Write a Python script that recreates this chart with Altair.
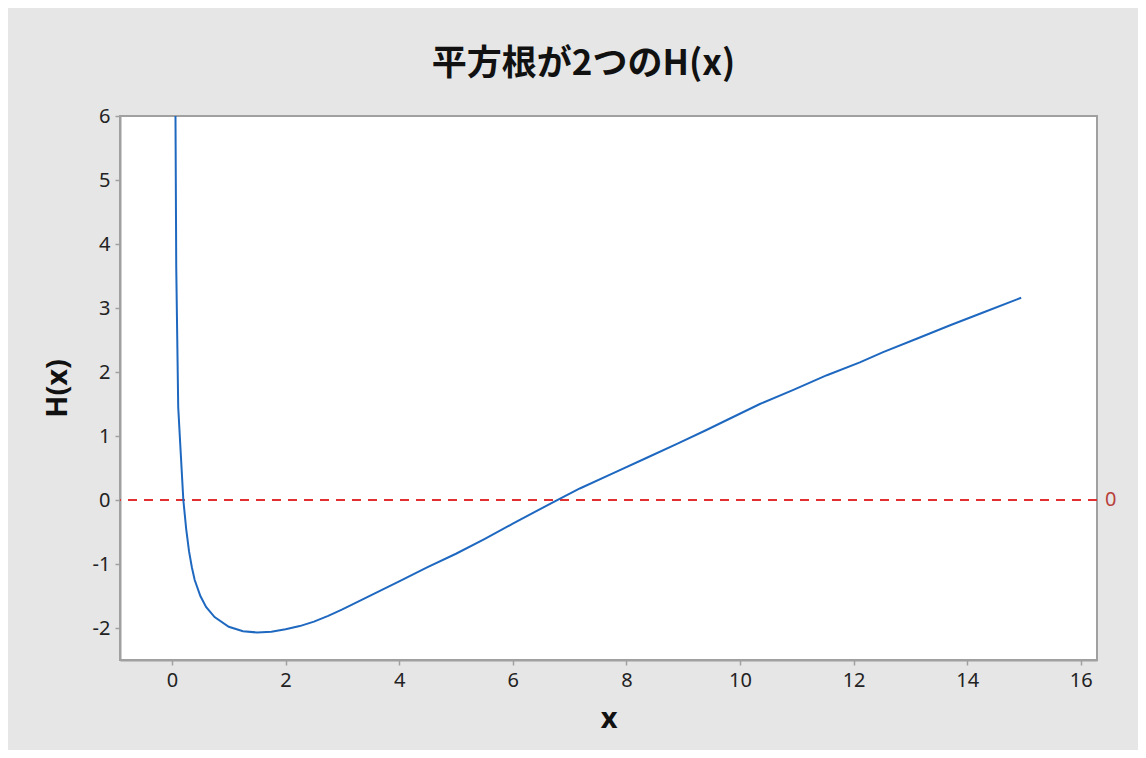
import altair as alt
import pandas as pd

# values
x_vals = [0.06, 0.075, 0.11, 0.15, 0.20, 0.25, 0.30, 0.35, 0.40, 0.50, 0.60, 0.75,
          1.00, 1.25, 1.50, 1.75, 2.00, 2.25, 2.50, 2.75, 3.00, 3.50, 4.00, 4.50, 5.00, 5.50,
          6.00, 6.74, 7.18, 7.77, 8.36, 8.90, 9.40, 9.77, 10.35, 10.94, 11.53,
          12.11, 12.52, 13.11, 13.70, 14.28, 14.95]
h_vals = [6.30, 3.65, 1.45, 0.80, 0.00, -0.45, -0.80, -1.05, -1.25, -1.50, -1.67, -1.83,
          -1.98, -2.05, -2.07, -2.06, -2.02, -1.97, -1.90, -1.81, -1.71, -1.49, -1.27, -1.05, -0.84, -0.61,
          -0.37, -0.02, 0.18, 0.42, 0.66, 0.88, 1.09, 1.25, 1.50, 1.72, 1.95,
          2.15, 2.31, 2.52, 2.73, 2.93, 3.16]
x_ticks = [0, 2, 4, 6, 8, 10, 12, 14, 16]
y_ticks = [-2, -1, 0, 1, 2, 3, 4, 5, 6]
ref_values = [0]
ref_labels = ["0"]
title_text = "平方根が2つのH(x)"
x_title = "x"
y_title = "H(x)"

df = pd.DataFrame({"x": x_vals, "H": h_vals})
ref = pd.DataFrame({"y": ref_values, "label": ref_labels})

W, H = 977, 544
xscale = alt.Scale(domain=[-0.915, 16.285], nice=False, zero=False)
yscale = alt.Scale(domain=[-2.5, 6], nice=False, zero=False)
plain = "datum.value < 0 ? '-' + abs(datum.value) : '' + datum.value"

line = alt.Chart(df).mark_line(color="#1f68c0", strokeWidth=2, clip=True).encode(
    x=alt.X("x:Q", scale=xscale,
            axis=alt.Axis(values=x_ticks, title=x_title, labelExpr=plain,
                          labelPadding=5, titlePadding=14)),
    y=alt.Y("H:Q", scale=yscale,
            axis=alt.Axis(values=y_ticks, title=y_title, labelExpr=plain,
                          labelPadding=5, titlePadding=20)),
)

rule = alt.Chart(ref).mark_rule(color="#e03030", strokeDash=[9, 7], strokeWidth=1.8).encode(
    y=alt.Y("y:Q", scale=yscale)
)

label = alt.Chart(ref).mark_text(align="left", baseline="middle", dx=8, color="#b8403a",
                                 fontSize=20, font="Noto Sans").encode(
    x=alt.value(W), y=alt.Y("y:Q", scale=yscale), text="label:N"
)

chart = alt.layer(rule, line, label).properties(
    width=W, height=H,
    title=alt.TitleParams(title_text, font="Noto Sans CJK JP", fontSize=35, fontWeight="bold",
                          color="#111111", anchor="middle", dx=-25, offset=24),
    background="#e6e6e6",
    padding={"left": 112, "top": 108, "right": 41, "bottom": 90},
    autosize=alt.AutoSizeParams(type="none"),
).configure_view(
    stroke="#a0a0a0", strokeWidth=2, fill="white"
).configure_axis(
    grid=False,
    domainColor="#a0a0a0", domainWidth=2,
    tickColor="#a0a0a0", tickSize=5, tickWidth=1.5,
    labelFont="Noto Sans", labelFontSize=20, labelColor="#222222",
    titleFont="Noto Sans", titleFontSize=29, titleFontWeight="bold", titleColor="#111111",
)

chart.save("out.html", embed_options={"renderer": "svg", "actions": False})
